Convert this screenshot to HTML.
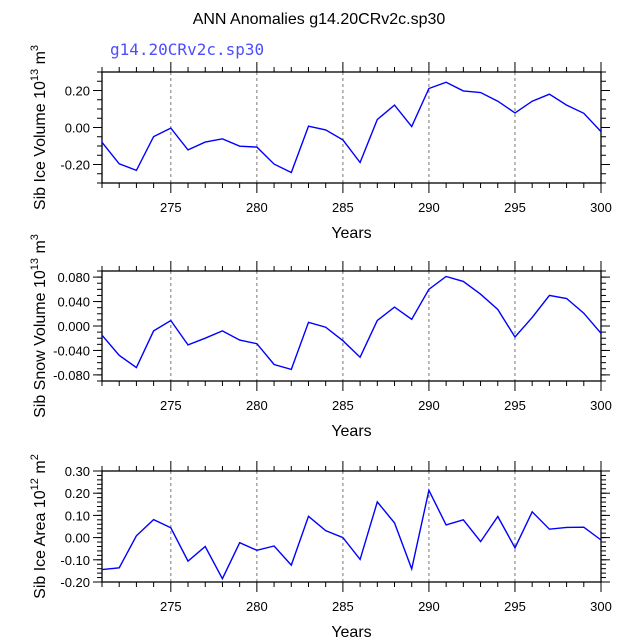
<!DOCTYPE html>
<html><head><meta charset="utf-8"><style>
body{margin:0;background:#fff}
svg text{font-family:"Liberation Sans",sans-serif;fill:#000}
</style></head><body>
<svg id="c" width="638" height="638" viewBox="0 0 638 638" xmlns="http://www.w3.org/2000/svg">
<text x="319" y="24" text-anchor="middle" font-size="16">ANN Anomalies g14.20CRv2c.sp30</text>
<text x="110" y="55" font-size="16" style="font-family:'DejaVu Sans Mono','Liberation Mono',monospace;fill:#4d4dff">g14.20CRv2c.sp30</text>
</svg>
<script>
const years = [271,272,273,274,275,276,277,278,279,280,281,282,283,284,285,286,287,288,289,290,291,292,293,294,295,296,297,298,299,300];
const iceVolume = [-0.08,-0.196,-0.232,-0.049,-0.003,-0.121,-0.079,-0.061,-0.101,-0.106,-0.198,-0.243,0.007,-0.013,-0.067,-0.189,0.043,0.121,0.005,0.211,0.245,0.198,0.189,0.142,0.079,0.142,0.18,0.121,0.077,-0.022];
const snowVolume = [-0.015,-0.048,-0.068,-0.008,0.009,-0.031,-0.020,-0.008,-0.023,-0.029,-0.063,-0.071,0.006,-0.002,-0.024,-0.051,0.009,0.031,0.011,0.060,0.081,0.073,0.052,0.027,-0.018,0.014,0.050,0.045,0.021,-0.012];
const iceArea = [-0.144,-0.136,0.008,0.081,0.044,-0.106,-0.040,-0.185,-0.023,-0.057,-0.038,-0.124,0.096,0.031,0.000,-0.098,0.161,0.066,-0.141,0.213,0.057,0.080,-0.018,0.095,-0.046,0.116,0.038,0.046,0.047,-0.011];
const xTicks = [275,280,285,290,295,300];
const ticks1 = [-0.2,0,0.2], labels1 = ["-0.20","0.00","0.20"];
const ticks2 = [-0.08,-0.04,0,0.04,0.08], labels2 = ["-0.080","-0.040","0.000","0.040","0.080"];
const ticks3 = [-0.2,-0.1,0,0.1,0.2,0.3], labels3 = ["-0.20","-0.10","0.00","0.10","0.20","0.30"];

const svg = document.getElementById('c');
const NS = 'http://www.w3.org/2000/svg';
function mk(tag, attrs, parent){const e=document.createElementNS(NS,tag);for(const k in attrs)e.setAttribute(k,attrs[k]);(parent||svg).appendChild(e);return e;}
const X0=102, X1=601, xMin=271, xMax=300;
const xs = v => X0 + (v-xMin)/(xMax-xMin)*(X1-X0);

const panels = [
 {top:72,bot:183,min:-0.3,max:0.3,minor:0.05,data:iceVolume,ticks:ticks1,labels:labels1,title:'Sib Ice Volume 10',sup:'13',unit:' m',usup:'3',name:'ice-volume'},
 {top:271,bot:381,min:-0.09,max:0.09,minor:0.01,data:snowVolume,ticks:ticks2,labels:labels2,title:'Sib Snow Volume 10',sup:'13',unit:' m',usup:'3',name:'snow-volume'},
 {top:471,bot:582,min:-0.2,max:0.3,minor:0.02,data:iceArea,ticks:ticks3,labels:labels3,title:'Sib Ice Area 10',sup:'12',unit:' m',usup:'2',name:'ice-area'}
];
panels.forEach(p=>{
  const g = mk('g',{});
  
  
  const ys = v => p.bot - (v-p.min)/(p.max-p.min)*(p.bot-p.top);
  // grid
  xTicks.slice(0,5).forEach(t=>{
    const l=mk('line',{x1:xs(t),x2:xs(t),y1:p.top,y2:p.bot,stroke:'#777','stroke-width':1,'stroke-dasharray':'3,3'},g);
    
    
  });
  // x ticks
  for(let y=xMin;y<=xMax;y++){
    const maj = y%5===0, len = maj?10:5;
    mk('line',{x1:xs(y),x2:xs(y),y1:p.top,y2:p.top-len,stroke:'#000','stroke-width':1},g);
    mk('line',{x1:xs(y),x2:xs(y),y1:p.bot,y2:p.bot+len,stroke:'#000','stroke-width':1},g);
  }
  xTicks.forEach(t=>{
    const tx=mk('text',{x:xs(t),y:p.bot+29,'text-anchor':'middle','font-size':13},g);
    tx.textContent=t;
    
    
  });
  // y minor ticks
  const n=Math.round((p.max-p.min)/p.minor);
  for(let i=0;i<=n;i++){
    const y=ys(p.min+i*p.minor);
    mk('line',{x1:X0,x2:X0-5,y1:y,y2:y,stroke:'#000','stroke-width':1},g);
    mk('line',{x1:X1,x2:X1+5,y1:y,y2:y,stroke:'#000','stroke-width':1},g);
  }
  p.ticks.forEach((t,i)=>{
    const y=ys(t);
    mk('line',{x1:X0,x2:X0-9,y1:y,y2:y,stroke:'#000','stroke-width':1},g);
    mk('line',{x1:X1,x2:X1+9,y1:y,y2:y,stroke:'#000','stroke-width':1},g);
    const tx=mk('text',{x:X0-12,y:y+5,'text-anchor':'end','font-size':13},g);
    tx.textContent=p.labels[i];
    
    
  });
  const fr=mk('rect',{x:X0,y:p.top,width:X1-X0,height:p.bot-p.top,fill:'none',stroke:'#000','stroke-width':1.3},g);
  
  
  const pts=p.data.map((v,i)=>xs(years[i]).toFixed(1)+','+ys(v).toFixed(1)).join(' ');
  const pl=mk('polyline',{points:pts,fill:'none',stroke:'#0000ff','stroke-width':1.4},g);
  
  
  const xt=mk('text',{x:(X0+X1)/2,y:p.bot+55,'text-anchor':'middle','font-size':16},g);
  xt.textContent='Years';
  
  
  const cy=(p.top+p.bot)/2;
  const yt=mk('text',{x:0,y:0,'text-anchor':'middle','font-size':16,transform:`translate(45,${cy}) rotate(-90)`},g);
  
  
  const a=mk('tspan',{},yt);a.textContent=p.title;
  const b=mk('tspan',{'font-size':11,dy:-7},yt);b.textContent=p.sup;
  const c=mk('tspan',{dy:7},yt);c.textContent=p.unit;
  const d=mk('tspan',{'font-size':11,dy:-7},yt);d.textContent=p.usup;
});
</script>
</body></html>
